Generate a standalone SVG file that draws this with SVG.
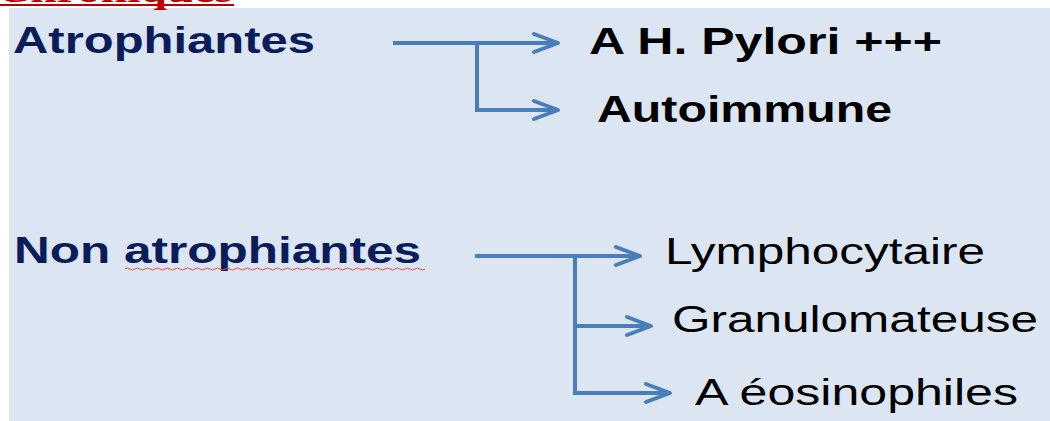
<svg xmlns="http://www.w3.org/2000/svg" width="1050" height="421" viewBox="0 0 1050 421">
  <defs>
    <style>
      .hdr { font-family: "Liberation Sans", Arial, sans-serif; font-weight: bold; font-size: 36px; fill: #0b1c5a; }
      .bold { font-family: "Liberation Sans", Arial, sans-serif; font-weight: bold; font-size: 36px; fill: #000; }
      .reg { font-family: "Liberation Sans", Arial, sans-serif; font-size: 36px; fill: #000; }
      .conn { fill: none; stroke: #4a7ebb; stroke-width: 4; stroke-linejoin: miter; }
    </style>
    <marker id="chev" markerUnits="userSpaceOnUse" refX="0" refY="0" orient="auto" overflow="visible" markerWidth="30" markerHeight="24">
      <path d="M-24,-9 L0,0 L-24,9" fill="none" stroke="#4a7ebb" stroke-width="4" stroke-linecap="round" stroke-linejoin="round"/>
    </marker>
  </defs>

  <rect x="0" y="0" width="1050" height="421" fill="#ffffff"/>
  <rect x="9" y="8" width="1041" height="413" fill="#dce6f2"/>

  <g id="title">
    <text x="-4" y="1.5" font-family="'Liberation Serif', serif" font-weight="bold" font-size="36" fill="#c00000" textLength="237" lengthAdjust="spacingAndGlyphs">Chroniques</text>
    <rect x="0" y="4" width="234" height="2" fill="#c00000"/>
  </g>

  <g id="atrophiantes">
    <text class="hdr" x="13" y="53" textLength="302" lengthAdjust="spacingAndGlyphs">Atrophiantes</text>
  </g>
  <g id="hpylori">
    <text class="bold" x="589" y="54" textLength="353" lengthAdjust="spacingAndGlyphs">A H. Pylori +++</text>
  </g>
  <g id="autoimmune">
    <text class="bold" x="597" y="122" textLength="295" lengthAdjust="spacingAndGlyphs">Autoimmune</text>
  </g>

  <g id="non-atrophiantes">
    <text class="hdr" x="14" y="263" textLength="407" lengthAdjust="spacingAndGlyphs">Non atrophiantes</text>
    <path d="M125,269 q2.5,-2 5,0 t5,0 t5,0 t5,0 t5,0 t5,0 t5,0 t5,0 t5,0 t5,0 t5,0 t5,0 t5,0 t5,0 t5,0 t5,0 t5,0 t5,0 t5,0 t5,0 t5,0 t5,0 t5,0 t5,0 t5,0 t5,0 t5,0 t5,0 t5,0 t5,0 t5,0 t5,0 t5,0 t5,0 t5,0 t5,0 t5,0 t5,0 t5,0 t5,0 t5,0 t5,0 t5,0 t5,0 t5,0 t5,0 t5,0 t5,0 t5,0 t5,0 t5,0 t5,0 t5,0 t5,0 t5,0 t5,0 t5,0 t5,0 t5,0 t5,0" fill="none" stroke="#e05050" stroke-width="1"/>
  </g>
  <g id="lymphocytaire">
    <text class="reg" x="665" y="264" textLength="320" lengthAdjust="spacingAndGlyphs">Lymphocytaire</text>
  </g>
  <g id="granulomateuse">
    <text class="reg" x="672" y="332" textLength="366" lengthAdjust="spacingAndGlyphs">Granulomateuse</text>
  </g>
  <g id="eosinophiles">
    <text class="reg" x="695" y="405" textLength="323" lengthAdjust="spacingAndGlyphs">A éosinophiles</text>
  </g>

  <g id="connectors">
    <path class="conn" d="M393,43 L558,43" marker-end="url(#chev)"/>
    <path class="conn" d="M477,43 L477,110 L558,110" marker-end="url(#chev)"/>
    <path class="conn" d="M475,256 L640,256" marker-end="url(#chev)"/>
    <path class="conn" d="M575,256 L575,393 L670,393" marker-end="url(#chev)"/>
    <path class="conn" d="M575,326 L651,326" marker-end="url(#chev)"/>
  </g>
</svg>
